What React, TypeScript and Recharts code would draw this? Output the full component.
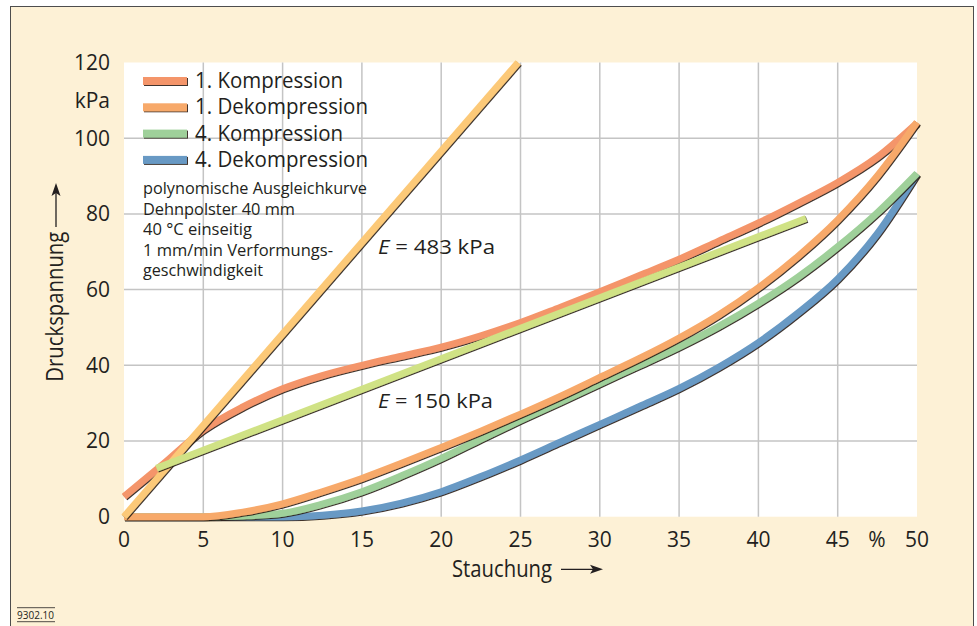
import { LineChart, Line, XAxis, YAxis, CartesianGrid, ReferenceLine } from "recharts";

const W = 977;
const H = 626;
const FONT = '"Open Sans", "Noto Sans", sans-serif';
const INK = "#231f20";
const PAPER = "#fdf1d6";
const GRID = "#c4c4c4";

// Stauchung in %, shared by the four fitted curves
const strain = [0, 2.5, 5, 7.5, 10, 12.5, 15, 17.5, 20, 22.5, 25, 27.5, 30, 32.5, 35, 37.5, 40, 42.5, 45, 47.5, 50];

// Druckspannung in kPa
const komp1 = [5.3, 14.0, 22.9, 29.0, 33.8, 37.3, 40.0, 42.4, 44.8, 47.8, 51.3, 55.3, 59.4, 63.7, 68.0, 72.8, 77.6, 82.8, 88.3, 95.0, 104.0];
const dekomp1 = [0, 0, 0, 1.2, 3.4, 6.6, 10.1, 14.1, 18.3, 22.6, 27.1, 31.8, 36.8, 41.8, 47.2, 53.3, 60.5, 68.8, 78.4, 90.0, 104.2];
const komp4 = [0, 0, 0, 0.2, 0.9, 3.3, 6.6, 10.8, 15.4, 20.5, 25.5, 30.3, 35.2, 40.0, 44.9, 50.3, 56.4, 63.3, 71.3, 80.3, 90.7];
const dekomp4 = [0, 0, 0, 0, 0, 0.4, 1.5, 3.6, 6.6, 10.6, 15.0, 19.7, 24.4, 29.1, 33.9, 39.5, 46.0, 53.8, 62.8, 74.8, 90.6];

// straight lines for the two moduli
const e483Strain = [0, 24.85];
const e483Stress = [0, 120];
const e150Strain = [2.05, 43];
const e150Stress = [12.8, 78.8];

const xTicks = [0, 5, 10, 15, 20, 25, 30, 35, 40, 45, 50];
const yTicks = [0, 20, 40, 60, 80, 100, 120];
const xGrid = [5, 10, 15, 20, 25, 30, 35, 40, 45];
const yGrid = [20, 40, 60, 80, 100];

const notes = [
  { text: "polynomische Ausgleichkurve", w: 224 },
  { text: "Dehnpolster 40 mm", w: 152 },
  { text: "40 °C einseitig", w: 109 },
  { text: "1 mm/min Verformungs-", w: 190 },
  { text: "geschwindigkeit", w: 120 },
];

const toPoints = (xs: number[], ys: number[]) => xs.map((x, i) => ({ x, y: ys[i] }));

const legend = [
  { name: "1. Kompression", color: "#f4956b", w: 148 },
  { name: "1. Dekompression", color: "#f7a96b", w: 173 },
  { name: "4. Kompression", color: "#9fd09a", w: 148 },
  { name: "4. Dekompression", color: "#6899c4", w: 173 },
];

// draw order: later lines lie on top
const series = [
  { key: "d4", color: "#6899c4", data: toPoints(strain, dekomp4), curve: "monotone" },
  { key: "k1", color: "#f4956b", data: toPoints(strain, komp1), curve: "monotone" },
  { key: "k4", color: "#9fd09a", data: toPoints(strain, komp4), curve: "monotone" },
  { key: "d1", color: "#f7a96b", data: toPoints(strain, dekomp1), curve: "monotone" },
  { key: "e483", color: "#fcc978", data: toPoints(e483Strain, e483Stress), curve: "linear" },
  { key: "e150", color: "#d0e285", data: toPoints(e150Strain, e150Stress), curve: "linear" },
];

const tickStyle = { fill: INK, fontSize: 21, fontFamily: FONT };

export default function App() {
  return (
    <div style={{ position: "absolute", left: 0, top: 0, width: W, height: H, overflow: "hidden", background: "#fff" }}>
      <style>{`.tube .recharts-line-curve { filter: url(#tubeEdge); }`}</style>
      <svg width={0} height={0} style={{ position: "absolute" }}>
        <defs>
          <filter id="tubeEdge" filterUnits="userSpaceOnUse" x="0" y="0" width={W} height={H}>
            <feOffset in="SourceAlpha" dx="0.7" dy="1.3" result="shift" />
            <feFlood floodColor="#2b2118" floodOpacity="0.9" />
            <feComposite in2="shift" operator="in" result="edge" />
            <feMerge>
              <feMergeNode in="edge" />
              <feMergeNode in="SourceGraphic" />
            </feMerge>
          </filter>
        </defs>
      </svg>
      <div
        style={{
          position: "absolute",
          left: 10,
          top: 6,
          width: 962,
          height: 640,
          background: PAPER,
          border: "1px solid #4d4d4d",
        }}
      />
      <div style={{ position: "absolute", left: 0, top: 0 }}>
        <LineChart width={W} height={H} margin={{ top: 62.5, right: 60, bottom: 69.3, left: 60 }}>
          <CartesianGrid fill="#ffffff" horizontal={false} vertical={false} stroke="none" />
          <XAxis
            type="number"
            dataKey="x"
            domain={[0, 50]}
            ticks={xTicks}
            interval={0}
            height={40}
            axisLine={false}
            tickLine={false}
            tickSize={0}
            tickMargin={15}
            tick={tickStyle}
            allowDuplicatedCategory={false}
          />
          <YAxis
            type="number"
            domain={[0, 120]}
            ticks={yTicks}
            interval={0}
            width={64}
            axisLine={false}
            tickLine={false}
            tickSize={0}
            tickMargin={14}
            tick={tickStyle}
          />
          {xGrid.map((v) => (
            <ReferenceLine key={`x${v}`} x={v} stroke={GRID} strokeWidth={1.5} />
          ))}
          {yGrid.map((v) => (
            <ReferenceLine key={`y${v}`} y={v} stroke={GRID} strokeWidth={1.5} />
          ))}
          {series.map((s) => (
            <Line
              key={s.key}
              className="tube"
              data={s.data}
              dataKey="y"
              type={s.curve as "monotone" | "linear"}
              stroke={s.color}
              strokeWidth={7}
              dot={false}
              activeDot={false}
              isAnimationActive={false}
            />
          ))}
        </LineChart>
      </div>
      <svg
        width={W}
        height={H}
        style={{ position: "absolute", left: 0, top: 0, pointerEvents: "none" }}
        fontFamily={FONT}
        fill={INK}
      >
        {/* unit under the top tick */}
        <text x={110} y={108} fontSize={21} textAnchor="end">kPa</text>
        <text x={877} y={546.5} fontSize={21} textAnchor="middle">%</text>

        {/* legend */}
        {legend.map((l, i) => {
          const y = 81 + i * 26.3;
          return (
            <g key={l.name}>
              <rect x={143} y={y - 4} width={44} height={8} fill={l.color} filter="url(#tubeEdge)" />
              <text x={195} y={y + 7} fontSize={22} textLength={l.w} lengthAdjust="spacingAndGlyphs">
                {l.name}
              </text>
            </g>
          );
        })}

        {/* test conditions */}
        {notes.map((n, i) => (
          <text key={n.text} x={143} y={194 + i * 20.5} fontSize={16.5} textLength={n.w} lengthAdjust="spacingAndGlyphs">
            {n.text}
          </text>
        ))}

        {/* moduli */}
        <text x={378} y={254} fontSize={20} textLength={117} lengthAdjust="spacingAndGlyphs">
          <tspan fontStyle="italic">E</tspan> = 483 kPa
        </text>
        <text x={378} y={408} fontSize={20} textLength={115} lengthAdjust="spacingAndGlyphs">
          <tspan fontStyle="italic">E</tspan> = 150 kPa
        </text>

        {/* axis titles */}
        <text x={452} y={576.5} fontSize={23} textLength={100} lengthAdjust="spacingAndGlyphs">Stauchung</text>
        <line x1={561} y1={569.3} x2={595} y2={569.3} stroke={INK} strokeWidth={1.3} />
        <polygon points="603,569.3 590,564.8 593,569.3 590,573.8" fill={INK} />

        <text
          transform="translate(63,306.7) rotate(-90)"
          fontSize={23}
          textAnchor="middle"
          textLength={150}
          lengthAdjust="spacingAndGlyphs"
        >
          Druckspannung
        </text>
        <line x1={56} y1={227} x2={56} y2={191} stroke={INK} strokeWidth={1.3} />
        <polygon points="56,183 51.5,196 56,193 60.5,196" fill={INK} />

        {/* drawing number */}
        <text x={17} y={619} fontSize={11} textLength={37} lengthAdjust="spacingAndGlyphs">9302.10</text>
        <line x1={17} y1={607.7} x2={55} y2={607.7} stroke={INK} strokeWidth={0.8} />
        <line x1={17} y1={621.7} x2={55} y2={621.7} stroke={INK} strokeWidth={0.8} />
      </svg>
    </div>
  );
}
